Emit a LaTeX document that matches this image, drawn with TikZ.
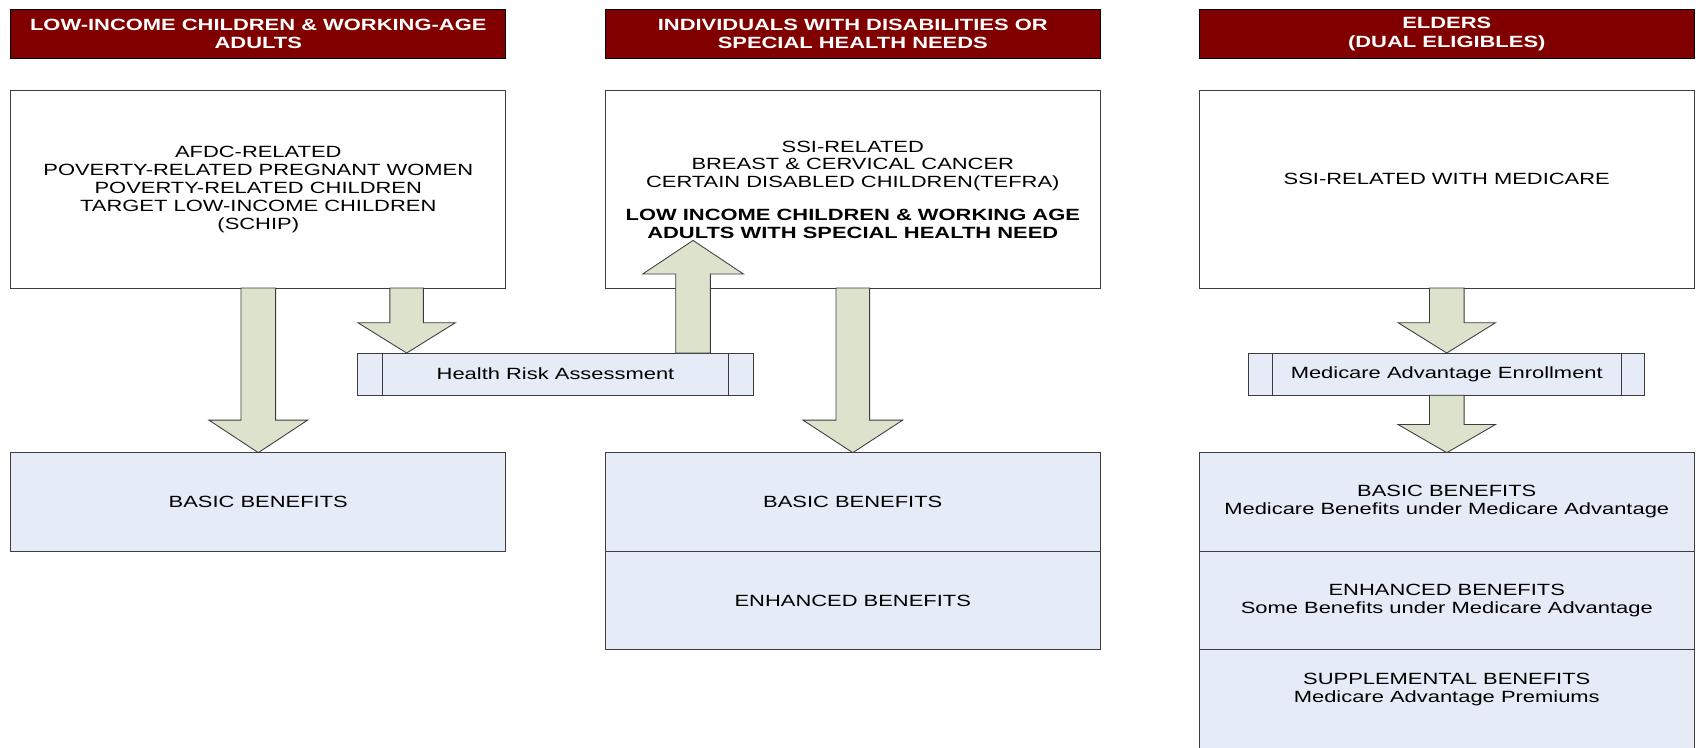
\documentclass[tikz,border=0pt]{standalone}
\usepackage{fontspec}
\setmainfont{Liberation Sans}[FakeStretch=1.35]
\usetikzlibrary{calc}
\definecolor{hdr}{RGB}{128,0,0}
\definecolor{benefit}{RGB}{230,236,247}
\definecolor{arrowfill}{RGB}{221,226,204}
\definecolor{edge}{RGB}{60,60,60}
\newcommand{\blockarr}[5]{%
  \draw[blockarrow] let \p1=(#1), \p2=(#2), \n1={sign(\y2-\y1)} in
    (\x1-#3,\y1) -- (\x1-#3,\y2-\n1*#5) -- (\x1-#4,\y2-\n1*#5) -- (\x1,\y2)
    -- (\x1+#4,\y2-\n1*#5) -- (\x1+#3,\y2-\n1*#5) -- (\x1+#3,\y1) -- cycle;}
\begin{document}
\begin{tikzpicture}[x=1pt,y=-1pt,
  every node/.style={font=\fontsize{15}{16.5}\selectfont, inner sep=0pt, outer sep=0pt},
  hdrbox/.style={draw=black, line width=1pt, fill=hdr, text=white,
    font=\bfseries\fontsize{15}{17}\selectfont, align=center,
    minimum width=457pt, minimum height=45pt},
  grpbox/.style={draw=edge, line width=0.9pt, fill=white, align=center,
    minimum width=457pt, minimum height=182pt},
  benbox/.style={draw=edge, line width=0.9pt, fill=benefit, align=center,
    minimum width=457pt, minimum height=91pt},
  procbox/.style={draw=edge, line width=0.9pt, fill=benefit,
    minimum width=366pt, minimum height=39pt},
  sideline/.style={draw=edge, line width=0.9pt},
  blockarrow/.style={draw=edge, line width=0.8pt, fill=arrowfill, line join=miter}]
\useasboundingbox (0,0) rectangle (1568,690);

% headers
\node[hdrbox] (h1) at (238.5,31.5) {LOW-INCOME CHILDREN \& WORKING-AGE\\ADULTS};
\node[hdrbox] (h2) at (787.5,31.5) {INDIVIDUALS WITH DISABILITIES OR\\SPECIAL HEALTH NEEDS};
\node[hdrbox] (h3) at (1336,31.5) {ELDERS\\(DUAL ELIGIBLES)};

% group boxes
\node[grpbox] (t1) at (238.5,175) {AFDC-RELATED\\POVERTY-RELATED PREGNANT WOMEN\\POVERTY-RELATED CHILDREN\\TARGET LOW-INCOME CHILDREN\\(SCHIP)};
\node[grpbox] (t2) at (787.5,175) {SSI-RELATED\\BREAST \& CERVICAL CANCER\\CERTAIN DISABLED CHILDREN(TEFRA)\\[13.5pt]
  \textbf{LOW INCOME CHILDREN \& WORKING AGE}\\\textbf{ADULTS WITH SPECIAL HEALTH NEED}};
\node[grpbox] (t3) at (1336,175) {};
\node (t3text) at ($(t3.center)+(0,-10)$) {SSI-RELATED WITH MEDICARE};

% process boxes
\node[procbox] (hra) at (513,345.5) {Health Risk Assessment};
\draw[sideline] ($(hra.north west)+(23,0)$) -- ($(hra.south west)+(23,0)$);
\draw[sideline] ($(hra.north east)+(-23,0)$) -- ($(hra.south east)+(-23,0)$);
\node[procbox] (mae) at (1336,345.5) {Medicare Advantage Enrollment};
\draw[sideline] ($(mae.north west)+(22,0)$) -- ($(mae.south west)+(22,0)$);
\draw[sideline] ($(mae.north east)+(-22,0)$) -- ($(mae.south east)+(-22,0)$);

% benefit boxes
\node[benbox] (b1) at (238.5,463.5) {BASIC BENEFITS};
\node[benbox] (b2a) at (787.5,463.5) {BASIC BENEFITS};
\node[benbox] (b2b) at (787.5,554.5) {ENHANCED BENEFITS};
\node[benbox] (b3a) at (1336,463.5) {BASIC BENEFITS\\Medicare Benefits under Medicare Advantage};
\node[benbox] (b3b) at (1336,554.5) {ENHANCED BENEFITS\\Some Benefits under Medicare Advantage};
\node[benbox] (b3c) at (1336,645.5) {};
\node[align=center] (b3ctext) at ($(b3c.center)+(0,-8.5)$) {SUPPLEMENTAL BENEFITS\\Medicare Advantage Premiums};

% arrows
\coordinate (a2s) at ($(t1.south)+(137,0)$);
\coordinate (a2e) at ($(hra.north)+(-137.5,0)$);
\coordinate (ups) at ($(hra.north)+(127,0)$);
\coordinate (upe) at ($(t2.south)+(-147.5,-44)$);

\blockarr{t1.south}{b1.north}{16pt}{45.5pt}{30pt}
\blockarr{a2s}{a2e}{15.5pt}{45pt}{28pt}
\blockarr{ups}{upe}{16pt}{46.5pt}{31pt}
\blockarr{t2.south}{b2a.north}{15.5pt}{46pt}{30pt}
\blockarr{t3.south}{mae.north}{16pt}{45pt}{28pt}
\blockarr{mae.south}{b3a.north}{16pt}{45pt}{26pt}
\end{tikzpicture}
\end{document}
